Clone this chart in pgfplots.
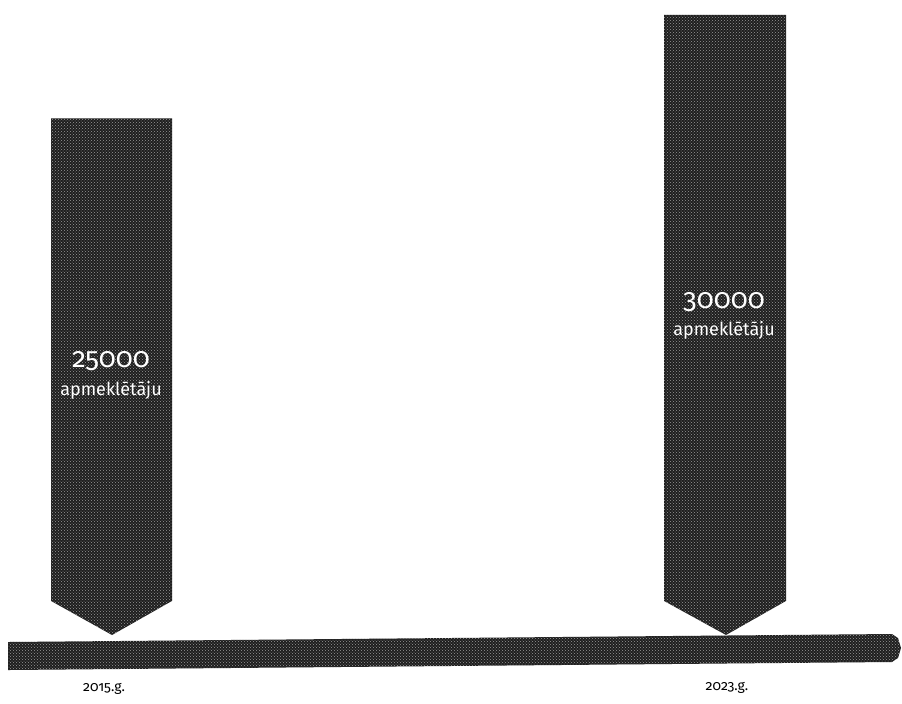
\documentclass[border=0pt]{standalone}
\usepackage{fontspec}
\setmainfont{Fira Sans}[Numbers=OldStyle]
\usepackage{pgfplots}
\pgfplotsset{compat=1.18}
\usetikzlibrary{patterns}
\definecolor{barfill}{HTML}{1E1E1E}

\begin{document}
\begin{tikzpicture}
\begin{axis}[
    width=902pt, height=703pt,
    scale only axis,
    hide axis,
    xmin=0, xmax=902,
    ymin=-3290, ymax=30726,
    clip=false,
]
% keep the whole axis area in the picture
\path (rel axis cs:0,0) rectangle (rel axis cs:1,1);
% arrow bars: (x, visitors); 0 is the arrow tip
\addplot[fill=barfill, draw=none, postaction={pattern=crosshatch dots, pattern color=gray!80}]
    coordinates {(51,25000) (172,25000) (172,1650) (112,0) (51,1650)};
\addplot[fill=barfill, draw=none, postaction={pattern=crosshatch dots, pattern color=gray!80}]
    coordinates {(664,30000) (786,30000) (786,1650) (726,0) (664,1650)};
% time line
\addplot[fill=barfill, draw=none, postaction={pattern=crosshatch dots, pattern color=gray!80}]
    coordinates {(8,-339) (892,48) (898,-150) (901,-630) (898,-1110) (892,-1306) (8,-1694)};

\node[white, font=\fontsize{28}{28}\selectfont] at (axis cs:111,13259) {25000};
\node[white, font=\fontsize{18}{18}\selectfont] at (axis cs:111,11856) {apmeklētāju};
\node[white, font=\fontsize{28}{28}\selectfont] at (axis cs:724,16114) {30000};
\node[white, font=\fontsize{18}{18}\selectfont] at (axis cs:724,14759) {apmeklētāju};
\node[font=\fontsize{14}{14}\selectfont] at (axis cs:104,-2613) {2015.g.};
\node[font=\fontsize{14}{14}\selectfont] at (axis cs:727,-2565) {2023.g.};
\end{axis}
\end{tikzpicture}
\end{document}
